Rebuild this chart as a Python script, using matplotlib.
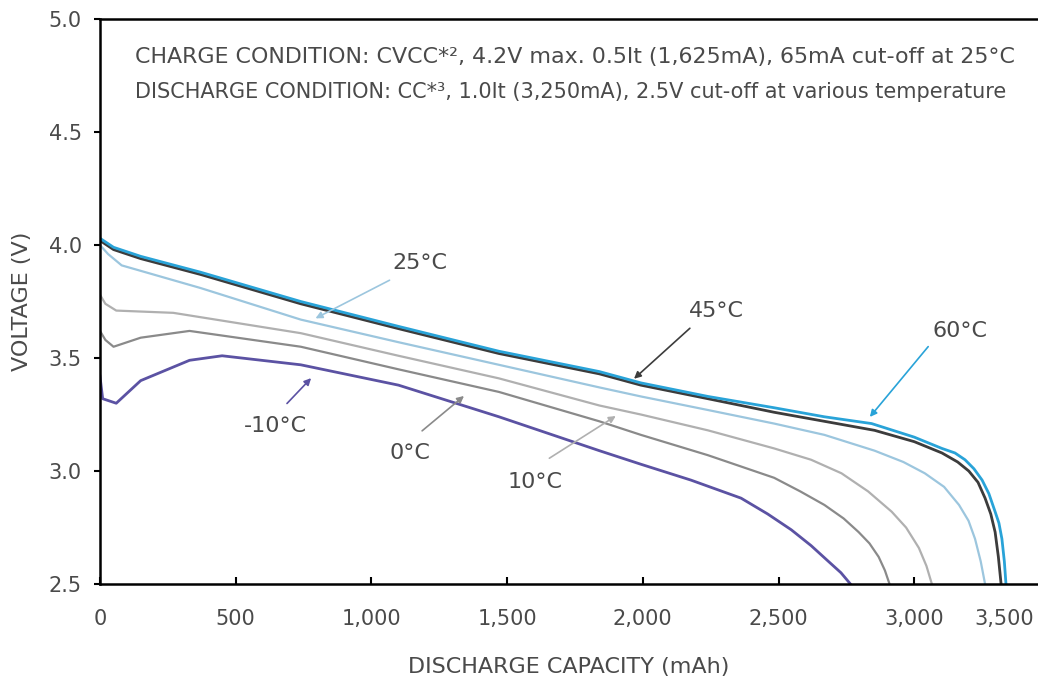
import matplotlib
matplotlib.use("Agg")
from matplotlib import pyplot as plt

# discharge curves: capacity (mAh) / voltage (V)
cap_60 = [0, 50, 150, 370, 740, 1100, 1470, 1840, 1993, 2240, 2484, 2669, 2843, 3000, 3102, 3150, 3187, 3220, 3250, 3275, 3298, 3312, 3323, 3332, 3338]
v_60 = [4.03, 3.99, 3.95, 3.88, 3.75, 3.64, 3.53, 3.44, 3.39, 3.33, 3.28, 3.24, 3.21, 3.15, 3.10, 3.08, 3.05, 3.01, 2.96, 2.90, 2.82, 2.77, 2.70, 2.60, 2.50]

cap_45 = [0, 50, 150, 370, 740, 1100, 1470, 1840, 1993, 2240, 2484, 2669, 2854, 3000, 3102, 3160, 3201, 3235, 3261, 3282, 3298, 3310, 3320]
v_45 = [4.02, 3.98, 3.94, 3.87, 3.74, 3.63, 3.52, 3.43, 3.38, 3.32, 3.26, 3.22, 3.18, 3.13, 3.08, 3.04, 3.00, 2.95, 2.88, 2.81, 2.73, 2.62, 2.50]

cap_25 = [0, 30, 80, 370, 740, 1100, 1470, 1840, 1993, 2240, 2484, 2669, 2854, 2960, 3039, 3110, 3165, 3200, 3224, 3245, 3261]
v_25 = [4.00, 3.96, 3.91, 3.81, 3.67, 3.57, 3.47, 3.37, 3.33, 3.27, 3.21, 3.16, 3.09, 3.04, 2.99, 2.93, 2.85, 2.78, 2.70, 2.60, 2.50]

cap_10 = [0, 20, 60, 270, 740, 1100, 1470, 1840, 1993, 2240, 2484, 2620, 2732, 2830, 2917, 2970, 3017, 3045, 3065]
v_10 = [3.78, 3.74, 3.71, 3.70, 3.61, 3.51, 3.41, 3.29, 3.25, 3.18, 3.10, 3.05, 2.99, 2.91, 2.82, 2.75, 2.66, 2.58, 2.50]

cap_0 = [0, 20, 50, 150, 330, 740, 1100, 1470, 1840, 1993, 2240, 2484, 2580, 2669, 2740, 2795, 2835, 2869, 2892, 2909]
v_0 = [3.62, 3.58, 3.55, 3.59, 3.62, 3.55, 3.45, 3.35, 3.22, 3.16, 3.07, 2.97, 2.91, 2.85, 2.79, 2.73, 2.68, 2.62, 2.56, 2.50]

cap_m10 = [0, 10, 60, 150, 330, 450, 740, 1100, 1470, 1840, 1993, 2177, 2362, 2460, 2547, 2620, 2684, 2730, 2765]
v_m10 = [3.42, 3.32, 3.30, 3.40, 3.49, 3.51, 3.47, 3.38, 3.24, 3.09, 3.03, 2.96, 2.88, 2.81, 2.74, 2.67, 2.60, 2.55, 2.50]

x_ticks = [0, 500, 1000, 1500, 2000, 2500, 3000, 3330]
x_labels = ["0", "500", "1,000", "1,500", "2,000", "2,500", "3,000", "3,500"]
y_ticks = [2.5, 3.0, 3.5, 4.0, 4.5, 5.0]

txt_col = "#4a4a4a"

fig = plt.figure(figsize=(10.38, 6.85), dpi=100)
ax = fig.add_axes([0.0963, 0.1474, 0.9037, 0.8248])

# bottom curves first so the 60C line sits on top
ax.plot(cap_m10, v_m10, color="#5b52a3", lw=2.0)
ax.plot(cap_0, v_0, color="#8a8a8a", lw=1.6)
ax.plot(cap_10, v_10, color="#b0b0b0", lw=1.6)
ax.plot(cap_25, v_25, color="#9cc6de", lw=1.6)
ax.plot(cap_45, v_45, color="#3c3c3c", lw=2.0)
ax.plot(cap_60, v_60, color="#29a3d8", lw=2.0)

ax.set_xlim(0, 3456)
ax.set_ylim(2.5, 5.0)
ax.set_xticks(x_ticks)
ax.set_xticklabels(x_labels)
ax.set_yticks(y_ticks)
ax.set_yticklabels(["%.1f" % v for v in y_ticks])
ax.tick_params(axis="x", direction="in", length=5, width=1.5, pad=18, labelsize=15, labelcolor=txt_col)
ax.tick_params(axis="y", direction="out", length=4, width=1.5, pad=9, labelsize=15, labelcolor=txt_col)
ax.xaxis.get_major_ticks()[-1].tick1line.set_visible(False)

for s in ["left", "bottom", "top"]:
	ax.spines[s].set_linewidth(1.8)
ax.spines["right"].set_visible(False)

ax.set_xlabel("DISCHARGE CAPACITY (mAh)", fontsize=16, color=txt_col, labelpad=20)
ax.set_ylabel("VOLTAGE (V)", fontsize=16, color=txt_col, labelpad=12)

ax.text(129, 4.832, "CHARGE CONDITION: CVCC*², 4.2V max. 0.5It (1,625mA), 65mA cut-off at 25°C",
		fontsize=15.9, color=txt_col, va="center")
ax.text(129, 4.677, "DISCHARGE CONDITION: CC*³, 1.0It (3,250mA), 2.5V cut-off at various temperature",
		fontsize=15.0, color=txt_col, va="center")

# temperature labels with pointer arrows
notes = [
	("25°C", (1179, 3.92), (1076, 3.85), (785, 3.67), "#9cc6de"),
	("45°C", (2270, 3.71), (2181, 3.64), (1960, 3.40), "#3c3c3c"),
	("60°C", (3169, 3.62), (3058, 3.56), (2830, 3.23), "#29a3d8"),
	("-10°C", (645, 3.20), (682, 3.29), (785, 3.42), "#5b52a3"),
	("0°C", (1142, 3.08), (1179, 3.17), (1349, 3.34), "#8a8a8a"),
	("10°C", (1603, 2.95), (1647, 3.05), (1909, 3.25), "#b0b0b0"),
]
for name, pos, start, tip, col in notes:
	ax.text(pos[0], pos[1], name, fontsize=16, color=txt_col, ha="center", va="center")
	ax.annotate("", xy=tip, xytext=start,
				arrowprops=dict(arrowstyle="-|>", color=col, lw=1.2, mutation_scale=10))

plt.savefig("out.png", dpi=100)
